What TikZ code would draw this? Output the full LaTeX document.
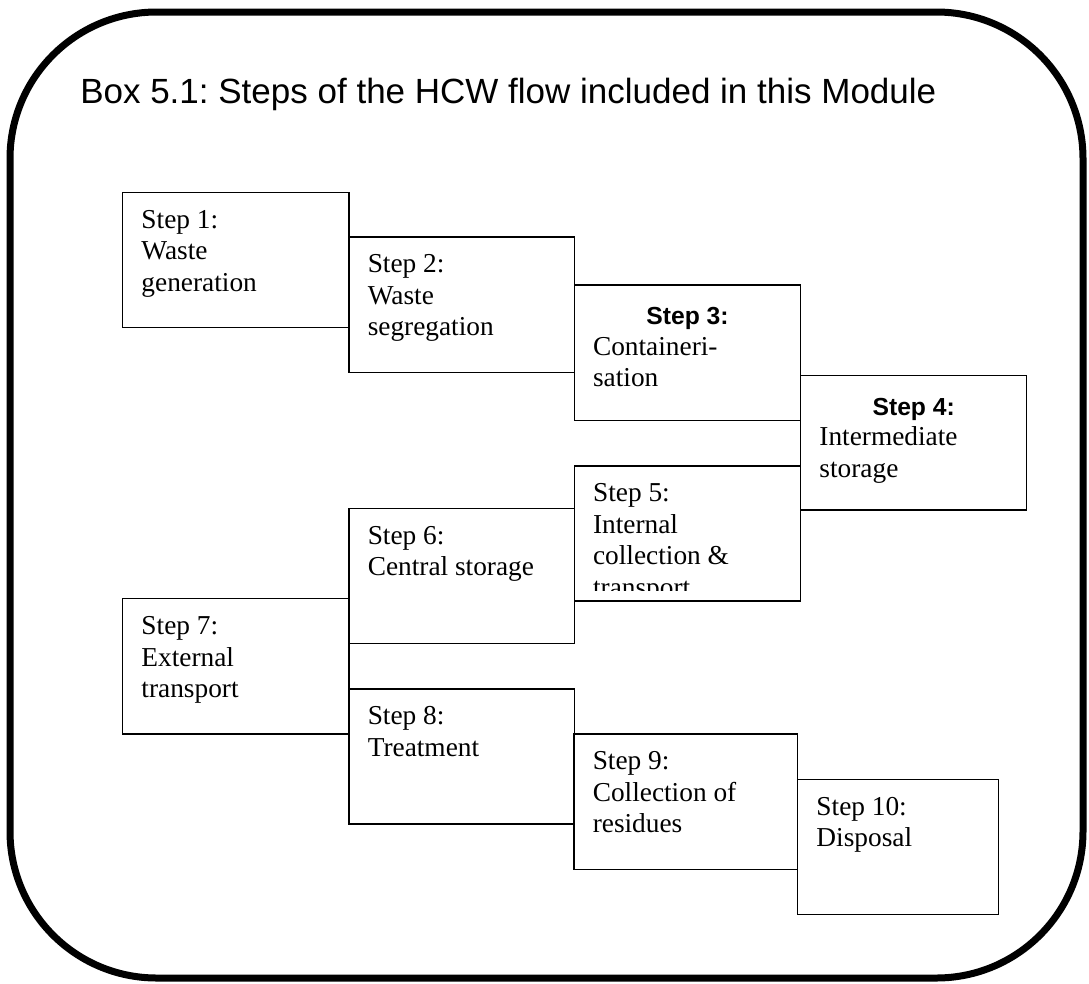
\documentclass[tikz,border=0pt]{standalone}
\usepackage{fontspec}
\setmainfont{Liberation Serif}
\setsansfont{Liberation Sans}
\usetikzlibrary{calc}
\frenchspacing
\begin{document}
\begin{tikzpicture}[x=0.75pt,y=-0.75pt,
  stepbox/.style 2 args={draw, line width=0.9pt, fill=white, minimum width=#1*0.75pt, minimum height=#2*0.75pt, anchor=north west, inner sep=0pt, outer sep=0pt},
  steptext/.style={anchor=north west, inner sep=0pt, align=left, font=\fontsize{20.5}{23.7}\selectfont},
  boldhead/.style={anchor=base, inner sep=0pt, font=\sffamily\bfseries\fontsize{18.5}{22}\selectfont},
  frame/.style={line width=5.25pt, rounded corners=110pt},
  titletext/.style={anchor=base west, inner sep=0pt, font=\sffamily\fontsize{26.25}{30}\selectfont}
]
\useasboundingbox (0,0) rectangle (1089,983);
\draw[frame] (10,12) rectangle (1083,978);
\node[titletext] (title) at (80,103) {Box 5.1: Steps of the HCW flow included in this Module};

% boxes
\node[stepbox={226.3}{135.4}] (b1) at (122.7,192.3) {};
\node[stepbox={225.7}{135.7}] (b2) at (349,237) {};
\node[stepbox={226.4}{135.3}] (b3) at (574.3,285) {};
\node[stepbox={226}{134.3}] (b4) at (800.7,375.7) {};
\node[stepbox={226.4}{135}] (b5) at (574.3,466) {};
\node[stepbox={225.7}{135.4}] (b6) at (349,508.3) {};
\node[stepbox={226.3}{135.3}] (b7) at (122.7,598.7) {};
\node[stepbox={225.7}{135}] (b8) at (349,689) {};
\node[stepbox={223.7}{135.3}] (b9) at (574,734) {};
\node[stepbox={200.6}{135}] (b10) at (797.7,779.3) {};

% texts
\node[steptext] (t1) at ($(b1.north west)+(18.5,0)$) {\rule{0pt}{26.6pt}Step 1:\\Waste\\generation};
\node[steptext] (t2) at ($(b2.north west)+(18.5,0)$) {\rule{0pt}{26.6pt}Step 2:\\Waste\\segregation};
\node[boldhead] (h3) at ($(b3.north)+(0,39.3)$) {Step 3:};
\node[steptext] (t3) at ($(b3.north west)+(18.5,0)$) {\rule{0pt}{52.5pt}Containeri-\\sation};
\node[boldhead] (h4) at ($(b4.north)+(0,39.3)$) {Step 4:};
\node[steptext] (t4) at ($(b4.north west)+(18.5,0)$) {\rule{0pt}{52.5pt}Intermediate\\storage};
\begin{scope}
\clip (574.3,466) rectangle (800.7,590);
\node[steptext] (t5) at ($(b5.north west)+(18.5,0)$) {\rule{0pt}{26.6pt}Step 5:\\Internal\\collection \&\\transport};
\end{scope}
\node[steptext] (t6) at ($(b6.north west)+(18.5,0)$) {\rule{0pt}{26.6pt}Step 6:\\Central storage};
\node[steptext] (t7) at ($(b7.north west)+(18.5,0)$) {\rule{0pt}{26.6pt}Step 7:\\External\\transport};
\node[steptext] (t8) at ($(b8.north west)+(18.5,0)$) {\rule{0pt}{26.6pt}Step 8:\\Treatment};
\node[steptext] (t9) at ($(b9.north west)+(18.5,0)$) {\rule{0pt}{26.6pt}Step 9:\\Collection of\\residues};
\node[steptext] (t10) at ($(b10.north west)+(18.5,0)$) {\rule{0pt}{26.6pt}Step 10:\\Disposal};
\end{tikzpicture}
\end{document}
